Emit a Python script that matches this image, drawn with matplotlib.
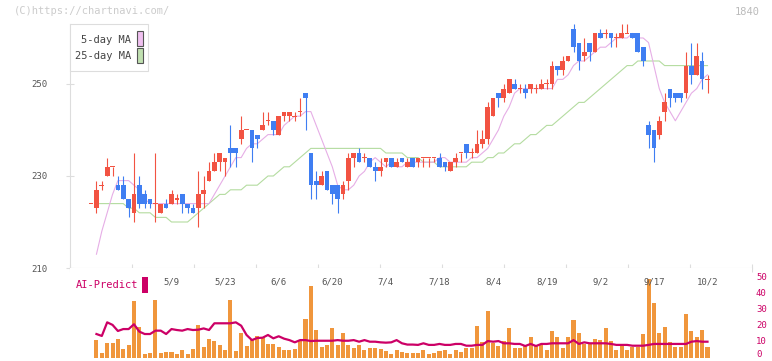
import numpy as np
import pandas as pd
import matplotlib
matplotlib.use('Agg')
import matplotlib.pyplot as plt
import matplotlib.transforms as mtransforms
from matplotlib.patches import Rectangle

plt.rcParams['font.family'] = ['DejaVu Sans Mono']

# daily candles, oldest first (yen)
opens = [224, 223, 228, 230, 232, 228, 228, 225, 222, 228, 226, 225, 224, 222, 224, 224, 225, 226, 224, 223,
         223, 226, 229, 231, 233, 233, 236, 236, 238, 240, 240, 239, 240, 242, 242, 239, 243, 243, 243, 244,
         248, 235, 229, 228, 231, 228, 228, 226, 229, 234, 235, 234, 234, 232, 231, 233, 234, 232, 234, 232,
         234, 233, 234, 234, 234, 234, 233, 231, 233, 235, 237, 235, 235, 237, 238, 243, 248, 247, 248, 250,
         249, 249, 249, 249, 249, 250, 250, 254, 253, 255, 262, 259, 256, 259, 257, 261, 261, 261, 260, 260,
         261, 261, 261, 258, 241, 240, 239, 244, 249, 248, 248, 248, 254, 252, 255, 251]
highs = [224, 229, 229, 234, 232, 230, 230, 225, 235, 230, 227, 225, 235, 224, 225, 227, 226, 226, 224, 224,
         231, 230, 233, 235, 235, 234, 241, 236, 243, 240, 240, 239, 244, 244, 242, 243, 244, 244, 244, 247,
         248, 235, 231, 231, 231, 228, 228, 229, 235, 235, 236, 235, 234, 233, 234, 234, 234, 234, 234, 234,
         234, 234, 234, 234, 234, 235, 233, 233, 235, 235, 237, 236, 240, 240, 246, 247, 248, 250, 251, 251,
         250, 250, 250, 250, 251, 251, 255, 254, 256, 256, 263, 259, 260, 259, 261, 262, 262, 261, 261, 263,
         263, 261, 261, 258, 242, 240, 243, 248, 249, 248, 248, 257, 259, 259, 257, 252]
lows = [224, 222, 227, 230, 230, 227, 225, 221, 220, 223, 223, 223, 220, 222, 223, 224, 224, 222, 222, 222,
        219, 223, 229, 231, 231, 230, 232, 232, 237, 240, 233, 236, 240, 241, 239, 239, 242, 242, 242, 243,
        240, 225, 225, 228, 227, 224, 222, 225, 227, 232, 233, 233, 232, 229, 230, 232, 232, 232, 233, 232,
        232, 232, 232, 232, 233, 232, 231, 231, 232, 233, 234, 234, 235, 236, 237, 243, 245, 246, 248, 249,
        248, 247, 248, 248, 249, 249, 249, 252, 252, 255, 257, 253, 255, 255, 257, 260, 260, 258, 258, 260,
        261, 260, 257, 254, 236, 233, 238, 242, 245, 246, 246, 247, 250, 252, 249, 248]
closes = [224, 227, 228, 232, 232, 227, 225, 223, 226, 224, 224, 224, 224, 224, 223, 226, 225, 224, 223, 222,
          226, 227, 231, 233, 235, 234, 235, 235, 240, 240, 236, 238, 241, 242, 240, 243, 244, 244, 243, 244,
          247, 228, 228, 230, 227, 226, 225, 228, 234, 235, 233, 234, 232, 231, 232, 234, 232, 233, 233, 233,
          232, 234, 234, 234, 234, 232, 232, 233, 234, 235, 235, 235, 237, 238, 245, 247, 247, 249, 251, 249,
          249, 248, 250, 249, 250, 250, 254, 253, 255, 256, 258, 255, 257, 257, 261, 260, 261, 260, 260, 261,
          261, 260, 257, 255, 239, 236, 242, 246, 247, 247, 247, 254, 252, 256, 251, 251]
# closes before the first shown day (only feed the moving averages)
pre_closes = [227, 228, 232, 232, 227, 240, 238, 236, 235, 234, 234, 232, 232, 231, 231, 225, 224,
              199, 199, 199, 202, 208, 214, 217]

volume = [0, 11.1, 3.1, 9.2, 9.2, 11.7, 5.4, 7.9, 35.6, 19.4, 2.5, 3.1, 36.0, 3.1, 3.7, 3.3, 2.5, 4.8, 2.5, 5.4,
          20.4, 6.9, 11.7, 10.2, 7.9, 4.8, 36.0, 4.2, 15.6, 7.3, 11.0, 13.5, 12.9, 8.5, 8.5, 6.4, 4.6, 4.8, 5.4, 11.0,
          24.2, 44.8, 17.3, 6.9, 7.9, 18.3, 7.9, 15.6, 7.9, 6.2, 7.9, 4.8, 6.2, 6.2, 5.4, 4.2, 2.2, 4.8, 3.7, 3.1,
          2.7, 2.9, 4.8, 2.3, 2.7, 4.2, 4.8, 2.1, 4.8, 3.5, 6.2, 6.2, 19.8, 10.1, 29.2, 9.1, 7.3, 10.4, 18.3, 6.2,
          6.2, 8.2, 12.7, 7.3, 8.7, 4.6, 16.7, 13.1, 6.2, 13.1, 23.6, 15.6, 8.7, 8.5, 11.7, 11.0, 18.8, 10.4, 4.6, 7.3,
          4.6, 6.9, 6.5, 14.8, 49.2, 34.4, 15.6, 19.4, 10.1, 6.9, 6.9, 27.3, 16.7, 12.7, 17.3, 6.9]
# AI-Predict line, from the second day on
ai_predict = [14.8, 13.6, 22.1, 20.5, 16.7, 17.9, 17.9, 20.9, 16.3, 14.8, 14.8, 16.9, 16.9, 14.8, 17.9, 17.3,
              16.9, 17.9, 17.3, 17.5, 18.3, 17.3, 21.5, 21.5, 21.5, 21.5, 22.1, 20.0, 14.2, 11.0, 12.3, 12.5,
              14.2, 12.1, 13.4, 11.9, 11.0, 9.6, 11.0, 11.0, 10.4, 10.6, 10.6, 10.6, 10.6, 11.0, 10.6, 10.6,
              11.0, 10.0, 11.0, 10.0, 10.0, 9.6, 9.4, 9.6, 11.0, 9.0, 8.2, 8.2, 8.0, 9.0, 8.0, 8.0, 8.6, 8.0,
              8.0, 8.6, 8.6, 7.5, 7.5, 8.0, 8.0, 10.4, 10.0, 10.4, 9.0, 9.0, 8.6, 8.6, 7.3, 8.6, 7.3, 8.6, 8.6,
              9.0, 9.0, 9.0, 9.0, 11.0, 8.6, 9.6, 9.0, 9.0, 9.0, 9.0, 8.6, 8.0, 8.0, 8.0, 7.5, 7.5, 7.5, 8.0,
              8.6, 8.6, 8.6, 8.6, 8.6, 8.6, 8.6, 10.0, 10.4, 10.0, 10.0]
date_labels = ['5/9', '5/23', '6/6', '6/20', '7/4', '7/18', '8/4', '8/19', '9/2', '9/17', '10/2']
date_idx = [15, 25, 35, 45, 55, 65, 75, 85, 95, 105, 115]
vol_ticks = [0, 10, 20, 30, 40, 50]

RED = '#f25342'
BLUE = '#3f7ef2'
MAGENTA = '#cc0066'
W, H = 772, 361


def fx(px):
    return px / W


def fy(py):
    return 1 - py / H


fig = plt.figure(figsize=(W / 100, H / 100), dpi=100)
ax = fig.add_axes([fx(70), fy(268), fx(752) - fx(70), fy(24) - fy(268)])
axv = fig.add_axes([fx(70), fy(357.7), fx(752) - fx(70), fy(268) - fy(357.7)])

x = np.arange(len(closes))
o = np.array(opens, float)
c = np.array(closes, float)
hi = np.array(highs, float)
lo = np.array(lows, float)
col = np.where(c >= o, RED, BLUE)

# moving averages, each day's value drawn one slot to the right
allc = pd.Series(pre_closes + closes, dtype=float)
n0 = len(pre_closes)
ma5 = np.round(allc.rolling(5).mean().to_numpy()[n0:])
ma25 = np.round(allc.rolling(25).mean().to_numpy()[n0:])
ax.plot(x[:-1] + 1, ma25[:-1], color='#b4dca0', lw=0.8, zorder=1)
ax.plot(x[:-1] + 1, ma5[:-1], color='#e6aee6', lw=0.8, zorder=1)

ax.vlines(x, lo, hi, colors=col, lw=0.8, zorder=2)
diff = np.abs(c - o)
body_h = np.where(diff > 0, diff, 0.22)
body_b = np.where(diff > 0, np.minimum(o, c), o - 0.11)
ax.bar(x, body_h, bottom=body_b, width=0.88, color=col, lw=0, zorder=3)

xl = (-21.1 / 5.36, 660.9 / 5.36)
ax.set_xlim(*xl)
ax.set_ylim(210, 263.04)
for s in ['top', 'right']:
    ax.spines[s].set_visible(False)
for s in ['left', 'bottom']:
    ax.spines[s].set_color('#dddddd')
    ax.spines[s].set_linewidth(0.8)
ax.set_yticks([210, 230, 250])
ax.set_xticks(np.linspace(xl[0], xl[1], 12))
ax.tick_params(axis='both', direction='inout', length=6, width=0.8, color='#dddddd',
               labelcolor='#555555', labelsize=6.5)
ax.tick_params(axis='x', labelbottom=False)
ax.tick_params(axis='y', pad=13)

# volume + AI-Predict panel
axv.bar(x, volume, width=0.75, color='#f0963c', lw=0, zorder=1)
axv.plot(x[1:], ai_predict, color=MAGENTA, lw=1.6, zorder=2)
axv.set_xlim(*xl)
axv.set_ylim(0, 56.06)
for s in axv.spines.values():
    s.set_visible(False)
axv.set_xticks([])
axv.set_yticks([])
ytr = axv.get_yaxis_transform()
for v in vol_ticks:
    tr = mtransforms.offset_copy(ytr, fig=fig, x=4, y=3 if v == 0 else 0, units='dots')
    axv.text(1.0, v, str(v), transform=tr, ha='left', va='center', fontsize=6.5, color=MAGENTA,
             clip_on=False)
for i, lab in zip(date_idx, date_labels):
    axv.text(i, 1 - 14 / 89.7, lab, transform=axv.get_xaxis_transform(), ha='center', va='center',
             fontsize=6.5, color='#555555')

# legend box
fig.add_artist(Rectangle((fx(70), fy(71)), fx(148) - fx(70), fy(24) - fy(71), transform=fig.transFigure,
                         facecolor='white', edgecolor='#dddddd', lw=0.8, zorder=5))
fig.text(fx(131), fy(40), '5-day MA', ha='right', va='center', fontsize=7.5, color='#444444', zorder=6)
fig.text(fx(131), fy(56), '25-day MA', ha='right', va='center', fontsize=7.5, color='#444444', zorder=6)
fig.add_artist(Rectangle((fx(136.5), fy(46)), fx(6), fy(31) - fy(46), transform=fig.transFigure,
                         facecolor='#f0c0f0', edgecolor='#555555', lw=0.8, zorder=6))
fig.add_artist(Rectangle((fx(136.5), fy(63)), fx(6), fy(48) - fy(63), transform=fig.transFigure,
                         facecolor='#c0e0b0', edgecolor='#555555', lw=0.8, zorder=6))

fig.text(fx(76), fy(285), 'AI-Predict', ha='left', va='center', fontsize=7.5, color=MAGENTA)
fig.add_artist(Rectangle((fx(142), fy(293)), fx(6), fy(277) - fy(293), transform=fig.transFigure,
                         facecolor=MAGENTA, lw=0, zorder=5))

fig.text(fx(14), fy(11), '(C)https://chartnavi.com/', ha='left', va='center', fontsize=7.5, color='#cccccc')
fig.text(fx(760), fy(12), '1840', ha='right', va='center', fontsize=7.5, color='#bbbbbb')

fig.savefig('out.png', dpi=100)
